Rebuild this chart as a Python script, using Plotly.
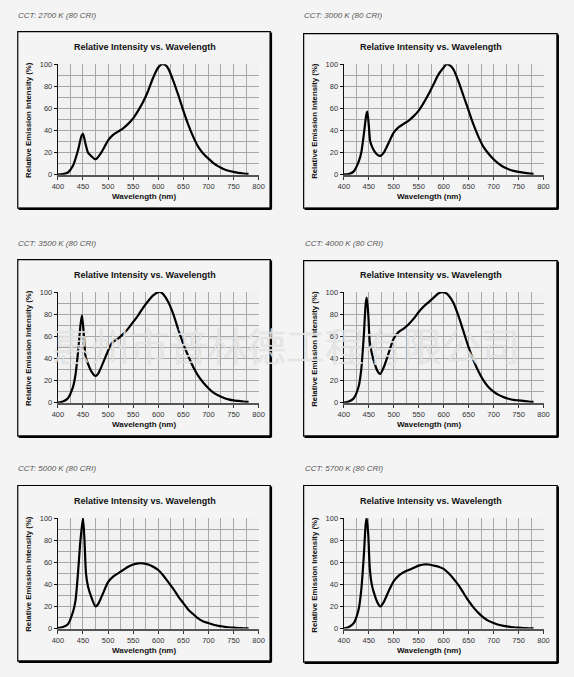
import plotly.graph_objects as go

W, H = 574, 677

captions = ["CCT: 2700 K (80 CRI)", "CCT: 3000 K (80 CRI)", "CCT: 3500 K (80 CRI)",
            "CCT: 4000 K (80 CRI)", "CCT: 5000 K (80 CRI)", "CCT: 5700 K (80 CRI)"]
chart_title = "Relative Intensity vs. Wavelength"
x_title = "Wavelength (nm)"
y_title = "Relative Emission Intensity (%)"
watermark = "惠州市普林德工程有限公司"

x_ticks = [400, 450, 500, 550, 600, 650, 700, 750, 800]
y_ticks = [0, 20, 40, 60, 80, 100]

wl_2700 = [400, 410, 420, 430, 440, 447, 450, 455, 460, 465, 475, 485, 495, 500, 510, 520, 530, 540, 550,
           560, 570, 580, 590, 600, 608, 615, 620, 630, 640, 650, 660, 670, 680, 690, 700, 710, 720, 730,
           740, 750, 760, 770, 780]
int_2700 = [0, 0.5, 2, 8, 22, 35, 37, 28, 20, 17.5, 14, 19, 27, 31, 36, 39, 42, 46, 51,
            58, 66, 76, 88, 97, 100, 99, 96, 85, 72, 58, 45, 34, 25, 19, 14.5, 10.5, 7.5, 5.2,
            3.6, 2.5, 1.7, 1.1, 0.7]

wl_3000 = [400, 410, 420, 430, 435, 440, 445, 447, 450, 453, 458, 465, 473, 480, 490, 500, 510, 520, 530,
           540, 550, 560, 570, 580, 590, 600, 606, 615, 620, 630, 640, 650, 660, 670, 680, 690, 700, 710,
           720, 730, 740, 750, 760, 770, 780]
int_3000 = [0.3, 0.6, 3, 12, 20, 36, 54, 57, 45, 30, 24, 19, 17, 20, 29, 38, 43, 46, 49,
            53, 58, 65, 73, 82, 91, 97, 100, 98, 95, 84, 71, 58, 45, 34, 25, 19, 14, 10,
            7, 5, 3.5, 2.5, 1.8, 1.2, 0.8]

wl_3500 = [400, 410, 420, 430, 435, 440, 445, 448, 452, 455, 460, 467, 475, 480, 490, 500, 505, 510, 520,
           530, 540, 550, 560, 570, 580, 590, 600, 605, 610, 620, 630, 640, 650, 660, 670, 680, 690, 700,
           710, 720, 730, 740, 750, 760, 770, 780]
int_3500 = [0, 1, 4, 14, 25, 45, 70, 79, 60, 42, 35, 28, 24, 26, 36, 47, 52, 55, 58,
            62, 67, 73, 79, 86, 92, 97, 100, 100, 98, 91, 80, 66, 53, 42, 32, 24, 18, 13,
            9, 6.5, 4.5, 3, 2, 1.5, 1, 0.7]

wl_4000 = [400, 410, 420, 430, 435, 440, 444, 446, 449, 452, 456, 462, 467, 473, 480, 490, 500, 510, 520,
           530, 540, 550, 560, 570, 580, 590, 598, 605, 610, 620, 630, 640, 650, 660, 670, 680, 690, 700,
           710, 720, 730, 740, 750, 760, 770, 780]
int_4000 = [0, 1, 4, 15, 30, 60, 90, 95, 80, 55, 45, 35, 29, 26, 32, 45, 58, 64, 67,
            71, 76, 82, 87, 91, 95, 99, 100, 99, 97, 90, 78, 64, 50, 38, 28, 20, 14, 10,
            7, 5, 3.5, 2.5, 2, 1.5, 1, 0.7]

wl_5000 = [400, 410, 420, 430, 435, 440, 445, 450, 453, 456, 460, 467, 475, 480, 490, 500, 510, 520, 530,
           540, 550, 560, 570, 580, 590, 600, 610, 620, 630, 640, 650, 660, 670, 680, 690, 700, 710, 720,
           730, 740, 750, 760, 770, 780]
int_5000 = [0.5, 1.5, 4, 15, 25, 50, 80, 100, 80, 50, 38, 28, 20, 22, 32, 42, 47, 50, 53,
            56, 58, 59, 59, 58, 56, 53, 48, 42, 36, 29, 23, 17, 13, 9, 6.5, 5, 3.5, 2.5,
            1.8, 1.2, 0.8, 0.5, 0.3, 0.2]

wl_5700 = [400, 410, 420, 430, 435, 440, 444, 446, 449, 452, 456, 462, 467, 473, 480, 490, 500, 510, 520,
           530, 540, 550, 560, 570, 580, 590, 600, 610, 620, 630, 640, 650, 660, 670, 680, 690, 700, 710,
           720, 730, 740, 750, 760, 770, 780]
int_5700 = [0, 1.5, 5, 18, 35, 65, 95, 100, 85, 55, 40, 30, 24, 20, 24, 34, 43, 48, 51,
            53, 55, 57, 58, 58, 57, 56, 54, 50, 45, 39, 32, 25, 19, 14, 10, 7, 5, 3.5,
            2.5, 1.8, 1.2, 0.8, 0.5, 0.3, 0.2]

series = [(wl_2700, int_2700), (wl_3000, int_3000), (wl_3500, int_3500),
          (wl_4000, int_4000), (wl_5000, int_5000), (wl_5700, int_5700)]

# layout geometry in pixels: box (x0,x1,y0,y1), plot (x0,x1,ytop,ybottom), caption position
boxes = [(12, 270, 28, 207), (304, 563, 30, 207), (12, 270, 259, 438),
         (304, 563, 260, 438), (12, 270, 488, 666), (304, 563, 488, 667)]
plots = [(53, 258, 61, 173), (345, 549, 61, 173), (53, 258, 292, 404),
         (345, 549, 292, 404), (53, 258, 521, 633), (345, 549, 521, 633)]
cap_pos = [(10, 12), (302, 12), (10, 243), (303, 243), (10, 471), (303, 471)]

def px(x):
    return x / W

def py(y):
    return 1 - y / H

fig = go.Figure()
shapes = []
annotations = []
FONT = "Liberation Sans, Arial, sans-serif"

for i, ((wl, val), box, pl, cp) in enumerate(zip(series, boxes, plots, cap_pos)):
    n = "" if i == 0 else str(i + 1)
    xa, ya = "x" + n, "y" + n
    fig.add_trace(go.Scatter(x=wl, y=val, mode="lines", xaxis=xa, yaxis=ya,
                             line=dict(color="black", width=2.2, shape="spline", smoothing=0.7),
                             showlegend=False, hoverinfo="skip"))
    px0, px1, pyt, pyb = pl
    fig.layout["xaxis" + n] = dict(
        domain=[px(px0), px(px1)], range=[400, 800], anchor=ya,
        tickvals=x_ticks, ticks="outside", ticklen=3, tickwidth=1, tickcolor="#333",
        showgrid=True, gridcolor="#a8a8a8", gridwidth=1,
        minor=dict(dtick=25, tick0=400, showgrid=True, gridcolor="#a8a8a8", gridwidth=1, ticks=""),
        showline=True, linecolor="#555", linewidth=2,
        tickfont=dict(family=FONT, size=7.5, color="#333"), zeroline=False, fixedrange=True)
    fig.layout["yaxis" + n] = dict(
        domain=[py(pyb), py(pyt)], range=[0, 100], anchor=xa,
        tickvals=y_ticks, ticks="outside", ticklen=3, tickwidth=1, tickcolor="#111",
        showgrid=True, gridcolor="#a8a8a8", gridwidth=1,
        minor=dict(dtick=10, tick0=0, showgrid=True, gridcolor="#a8a8a8", gridwidth=1, ticks=""),
        showline=True, linecolor="#111", linewidth=1.3,
        tickfont=dict(family=FONT, size=7.5, color="#333"), zeroline=False, fixedrange=True)

    bx0, bx1, by0, by1 = box
    shapes.append(dict(type="rect", xref="paper", yref="paper", x0=px(bx0), x1=px(bx1),
                       y0=py(by1), y1=py(by0), line=dict(color="black", width=1.2),
                       fillcolor="rgba(0,0,0,0)", layer="below"))
    shapes.append(dict(type="line", xref="paper", yref="paper", x0=px(bx1 + 0.5), x1=px(bx1 + 0.5),
                       y0=py(by1 + 1), y1=py(by0 + 1), line=dict(color="black", width=2.5)))
    shapes.append(dict(type="line", xref="paper", yref="paper", x0=px(bx0 + 1), x1=px(bx1 + 1),
                       y0=py(by1 + 0.5), y1=py(by1 + 0.5), line=dict(color="black", width=2.5)))

    cx = (px0 + px1) / 2
    annotations.append(dict(text=captions[i], xref="paper", yref="paper", x=px(cp[0]), y=py(cp[1]),
                            xanchor="left", yanchor="middle", showarrow=False,
                            font=dict(family=FONT, size=8, color="#555", style="italic")))
    annotations.append(dict(text="<b>" + chart_title + "</b>", xref="paper", yref="paper",
                            x=px((bx0 + bx1) / 2 + 1), y=py(pyt - 17), xanchor="center", yanchor="middle",
                            showarrow=False, font=dict(family=FONT, size=9, color="#111")))
    annotations.append(dict(text="<b>" + x_title + "</b>", xref="paper", yref="paper",
                            x=px(cx - 15), y=py(pyb + 22), xanchor="center", yanchor="middle",
                            showarrow=False, font=dict(family=FONT, size=8, color="#111")))
    annotations.append(dict(text="<b>" + y_title + "</b>", xref="paper", yref="paper",
                            x=px(px0 - 30), y=py((pyt + pyb) / 2 + 1), xanchor="center", yanchor="middle",
                            textangle=-90, showarrow=False, font=dict(family=FONT, size=7.8, color="#111")))

annotations.append(dict(text=watermark, xref="paper", yref="paper", x=px(286), y=py(345),
                        xanchor="center", yanchor="middle", showarrow=False,
                        font=dict(family="Noto Sans CJK SC", size=39, color="rgba(246,246,246,0.7)",
                                  shadow="0px 0px 1px #a8a8a8", weight=300)))

fig.update_layout(width=W, height=H, margin=dict(l=0, r=0, t=0, b=0), autosize=False,
                  paper_bgcolor="#f4f4f4", plot_bgcolor="#f1f1f1",
                  shapes=shapes, annotations=annotations, showlegend=False)

fig.write_html("out.html", config=dict(displayModeBar=False),
               post_script="document.body.style.margin='0px';document.body.style.overflow='hidden';")
